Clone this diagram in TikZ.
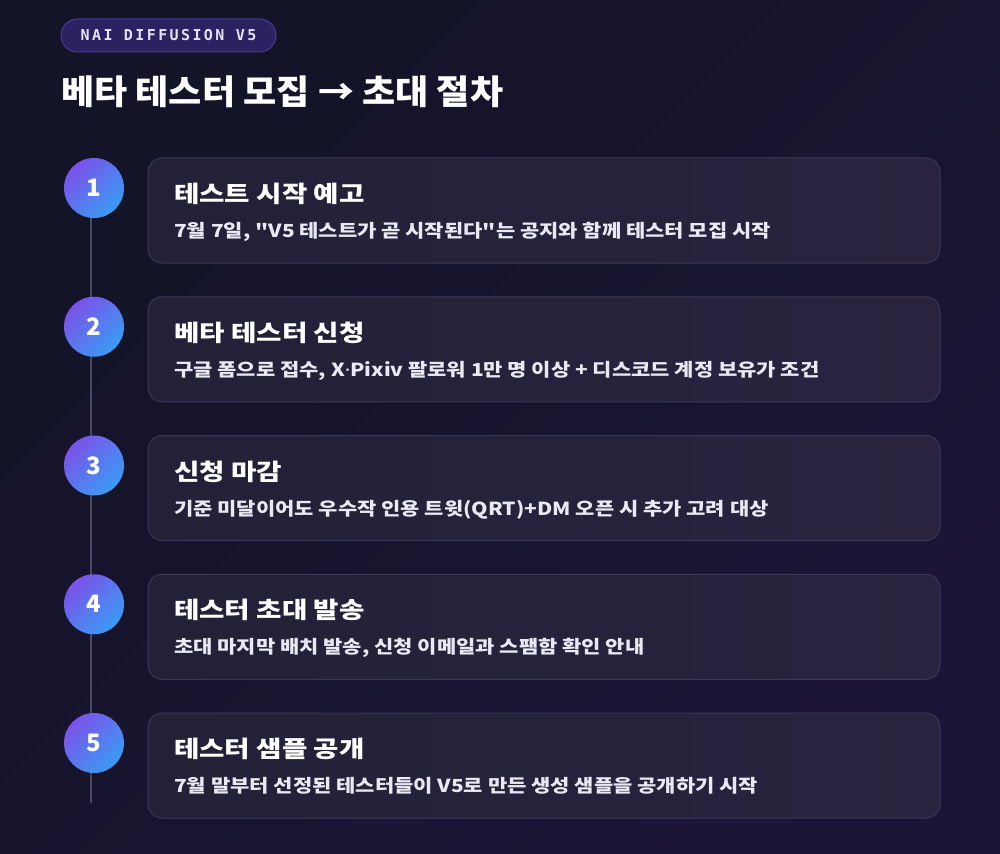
\documentclass[tikz,border=0pt]{standalone}
\usepackage{fontspec}
\newfontfamily\kr{Noto Sans CJK KR}
\newfontfamily\krtitle{Noto Sans CJK KR}[FakeStretch=1.06]
\newfontfamily\krhead{Noto Sans CJK KR}[FakeStretch=1.2]
\newfontfamily\krsub{Noto Sans CJK KR}[FakeStretch=1.165]
\newfontfamily\latsub{Noto Sans}[FakeStretch=1.165]
\newfontfamily\monof{DejaVu Sans Mono}[LetterSpace=16]
\definecolor{bgA}{HTML}{131427}
\definecolor{bgB}{HTML}{1C1537}
\definecolor{cardA}{HTML}{222137}
\definecolor{cardB}{HTML}{29233F}
\definecolor{cardLine}{HTML}{3B3758}
\definecolor{circA}{HTML}{7B52E8}
\definecolor{circB}{HTML}{3A9CF5}
\definecolor{pillFill}{HTML}{2C2262}
\definecolor{pillLine}{HTML}{4B3B95}
\definecolor{pillText}{HTML}{E6E2FA}
\definecolor{subText}{HTML}{EAE8F2}
\definecolor{rail}{HTML}{4A4866}
\tikzset{
  card/.style={draw=cardLine, line width=1pt, rounded corners=14pt, left color=cardA, right color=cardB, minimum width=792pt, minimum height=105pt, inner sep=0pt},
  stepnum/.style={circle, minimum size=60pt, inner sep=0pt, top color=circA, bottom color=circB, shading angle=45, text=white, font=\kr\bfseries\fontsize{24}{24}\selectfont},
  cardtitle/.style={anchor=base west, inner sep=0pt, text=white, font=\krhead\bfseries\fontsize{23}{23}\selectfont},
  cardsub/.style={anchor=base west, inner sep=0pt, text=subText, font=\krsub\bfseries\fontsize{18}{18}\selectfont},
}
\begin{document}
\begin{tikzpicture}[x=1pt,y=-1pt]
\useasboundingbox (0,0) rectangle (1000,853);
\shade[top color=bgA, bottom color=bgB, shading angle=45] (0,0) rectangle (1000,853);
% pill
\node[draw=pillLine, fill=pillFill, rounded corners=16.5pt, minimum width=215pt, minimum height=33pt, inner sep=0pt, line width=1pt] (pill) at (168.5,35.5) {};
\node[text=pillText, font=\monof\bfseries\fontsize{15}{15}\selectfont, inner sep=0pt] (pilltext) at (pill.center) {NAI DIFFUSION V5};
% title
\node[anchor=base west, inner sep=0pt, text=white, font=\krtitle\bfseries\fontsize{34}{34}\selectfont] (title) at (61,105) {베타 테스터 모집 → 초대 절차};
% rail
\coordinate (railtop) at (91,188);
\coordinate (railend) at (91,803);
\draw[rail, line width=2pt] (railtop) -- (railend);
% steps
\foreach \i/\t/\s in {
 1/{테스트 시작 예고}/{7월 7일, "V5 테스트가 곧 시작된다"는 공지와 함께 테스터 모집 시작},
 2/{베타 테스터 신청}/{구글 폼으로 접수, X{\latsub\bfseries ·}Pixiv 팔로워 1만 명 이상 + 디스코드 계정 보유가 조건},
 3/{신청 마감}/{기준 미달이어도 우수작 인용 트윗(QRT)+DM 오픈 시 추가 고려 대상},
 4/{테스터 초대 발송}/{초대 마지막 배치 발송, 신청 이메일과 스팸함 확인 안내},
 5/{테스터 샘플 공개}/{7월 말부터 선정된 테스터들이 V5로 만든 생성 샘플을 공개하기 시작}}{
  \pgfmathsetmacro{\top}{158+138.75*(\i-1)}
  \node[card] (k\i) at (544,\top+52.5) {};
  \node[stepnum] (c\i) at (94,\top+30) {\i};
  \node[cardtitle] (t\i) at (174,\top+44.5) {\t};
  \node[cardsub] (s\i) at (174,\top+79.5) {\s};
}
\end{tikzpicture}
\end{document}
